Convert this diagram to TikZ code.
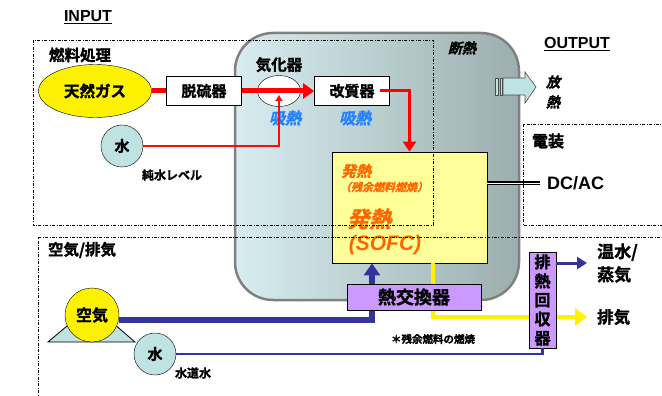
\documentclass[tikz,border=0pt]{standalone}
\usepackage{fontspec}
\setmainfont{Liberation Sans}
\newfontfamily\jp{Noto Sans CJK JP Bold}[FakeBold=1.5]
\newfontfamily\jpit{Noto Sans CJK JP Bold}[FakeSlant=0.25,FakeBold=1.5]
\usepackage{xcolor}
\usetikzlibrary{shapes,arrows.meta,positioning,calc}

\definecolor{mizublue}{RGB}{191,226,226}
\definecolor{lineblue}{RGB}{51,51,153}
\definecolor{fcyellow}{RGB}{255,255,153}
\definecolor{hxpurple}{RGB}{204,153,255}
\definecolor{heatorange}{RGB}{255,102,0}
\definecolor{absblue}{RGB}{40,130,255}
\definecolor{insleft}{RGB}{216,237,241}
\definecolor{insright}{RGB}{156,174,174}

\begin{document}
\begin{tikzpicture}[x=1pt, y=-1pt,
    unit/.style={draw, fill=white, line width=0.8pt, minimum height=29pt, inner sep=0pt, font=\jp\fontsize{15}{18}\selectfont},
    label/.style={inner sep=0pt, font=\jp\fontsize{15.5}{18}\selectfont},
    absorb/.style={inner sep=0pt, text=absblue, font=\jpit\fontsize{16}{18}\selectfont},
    water/.style={circle, draw, fill=mizublue, minimum size=42pt, inner sep=0pt, font=\jp\fontsize{15}{18}\selectfont},
    zone/.style={line width=0.7pt, dash pattern=on 3pt off 1.5pt on 0.8pt off 1.5pt},
    fuel/.style={red, line width=5pt},
    airline/.style={lineblue, line width=5.5pt}
]
    \useasboundingbox[fill=white] (0,0) rectangle (662,396);

    % Insulated hot box
    \node[draw=gray, line width=2.5pt, rounded corners=38pt, left color=insleft, right color=insright,
          minimum width=284pt, minimum height=267pt] (hotbox) at (377,166.5) {};
    \node[label, font=\jpit\fontsize{14}{16}\selectfont] (dannetsu) at (462,48) {断熱};

    % Heat release arrow
    \filldraw[fill=mizublue, draw=gray!60!black, line width=0.6pt] (495,78) rectangle (498,95);
    \filldraw[fill=mizublue, draw=gray!60!black, line width=0.6pt] (500,78) rectangle (502,95);
    \filldraw[fill=mizublue, draw=gray!60!black, line width=0.6pt]
        (503,78) -- (525,78) -- (525,72) -- (536,87) -- (525,103) -- (525,95) -- (503,95) -- cycle;
    \node[label, align=center, font=\jpit\fontsize{14}{20}\selectfont] (houne) at (553,92) {放\\熱};

    % Fuel processing
    \node[ellipse, draw, fill=yellow, minimum width=113pt, minimum height=53pt, inner sep=0pt,
          font=\jp\fontsize{15.5}{18}\selectfont] (gas) at (95,91) {天然ガス};
    \node[unit, minimum width=75pt] (desulf) at (204,91) {脱硫器};
    \node[ellipse, draw, fill=white, minimum width=43pt, minimum height=31pt, inner sep=0pt] (vap) at (279,91) {};
    \node[label, above=3pt of vap] (vaplbl) {気化器};
    \node[unit, minimum width=75pt] (reform) at (352,91) {改質器};
    \node[water] (pure) at (122,146) {水};
    \node[label, font=\jp\fontsize{12}{14}\selectfont] (purelbl) at (172,175) {純水レベル};
    \foreach \x/\n in {285/1,355/2} {
        \node[absorb] (abs\n) at (\x,118) {吸熱};
    }

    % SOFC stack
    \node[draw, fill=fcyellow, line width=0.8pt, minimum width=155pt, minimum height=111pt] (sofc) at (409.5,207.5) {};
    \node[label, text=heatorange, font=\jpit\fontsize{15}{18}\selectfont] (hot1) at (356,171) {発熱};
    \node[label, text=heatorange, font=\jpit\fontsize{11}{13}\selectfont] (hot1b) at (384,187) {（残余燃料燃焼）};
    \node[label, text=heatorange, font=\jpit\fontsize{22}{24}\selectfont] (hot2) at (369,219) {発熱};
    \node[label, text=heatorange, font=\bfseries\itshape\fontsize{21}{24}\selectfont] (hot2b) at (385,245) {(SOFC)};

    % Fuel and water lines
    \draw[fuel] (gas.east) -- (desulf.west);
    \draw[fuel, -{Triangle[length=11pt,width=15pt]}] (desulf.east) -- (reform.west);
    \draw[red!90!orange, line width=2pt, -{Triangle[length=6pt,width=7pt]}] (pure.east) -| ([yshift=-4pt]vap.center);
    \draw[red, line width=3pt, -{Triangle[length=10pt,width=13pt]}] ([xshift=-10pt]reform.east) -| (sofc.north);

    % Electric output
    \node[anchor=west, inner sep=0pt, font=\bfseries\fontsize{18}{20}\selectfont] (dcac) at (547,183) {DC/AC};
    \draw[black, double=white, double distance=0.8pt, line width=1.6pt] (sofc.east |- dcac.west) -- ([xshift=-7pt]dcac.west);

    % Air and exhaust
    \node[anchor=west, label, font=\jp\fontsize{16.5}{18}\selectfont] (haiki) at (597,317) {排気};
    \node[anchor=west, label, align=left, font=\jp\fontsize{17}{23}\selectfont] (steam) at (597,263) {温水/\\蒸気};
    \draw[yellow, line width=4.5pt, -{Triangle[length=12pt,width=17pt]}] ([xshift=23.5pt]sofc.south) |- ([xshift=-10pt]haiki.west);
    \draw[fill=mizublue, line width=0.8pt] (48,342) -- (92,305) -- (135,342) -- cycle;
    \node[circle, draw, fill=yellow, minimum size=54pt, inner sep=0pt, font=\jp\fontsize{16}{18}\selectfont] (air) at (92,315) {空気};
    \node[water] (tap) at (155,354) {水};
    \node[label, font=\jp\fontsize{12}{14}\selectfont] (taplbl) at (193,373) {水道水};
    \draw[airline, -{Triangle[length=12pt,width=16pt]}] ([yshift=-5pt]air.east) -| ([xshift=-37.5pt]sofc.south);
    \node[draw, fill=hxpurple, line width=0.8pt, minimum width=134pt, minimum height=26pt, inner sep=0pt,
          font=\jp\fontsize{18}{20}\selectfont] (hx) at (414,297) {熱交換器};
    \node[draw, fill=hxpurple, line width=0.8pt, minimum width=27pt, minimum height=96pt, inner sep=0pt,
          align=center, font=\jp\fontsize{16}{19}\selectfont] (hr) at (542.5,300) {排\\熱\\回\\収\\器};
    \draw[lineblue, line width=2.5pt] (tap.east) -| (hr.south);
    \draw[lineblue, line width=3pt, -{Triangle[length=10pt,width=12pt]}] (hr.east |- steam.west) -- ([xshift=-10pt]steam.west);
    \node[label, font=\jp\fontsize{10.5}{12}\selectfont] (note) at (433,339) {＊残余燃料の燃焼};

    % Zones
    \draw[zone] (33,40) rectangle (433,225);
    \draw[zone] (38,400) -- (38,237) -- (670,237);
    \draw[zone] (670,225) -- (523,225) -- (523,124) -- (670,124);
    \node[label] (fuelzone) at (80,55) {燃料処理};
    \node[label] (airzone) at (82,250) {空気/排気};
    \node[label, font=\jp\fontsize{16}{18}\selectfont] (elzone) at (548,141) {電装};
    \node[font=\bfseries\fontsize{16}{18}\selectfont] (input) at (88,17) {\underline{INPUT}};
    \node[font=\bfseries\fontsize{16}{18}\selectfont] (output) at (577,44) {\underline{OUTPUT}};
\end{tikzpicture}
\end{document}
